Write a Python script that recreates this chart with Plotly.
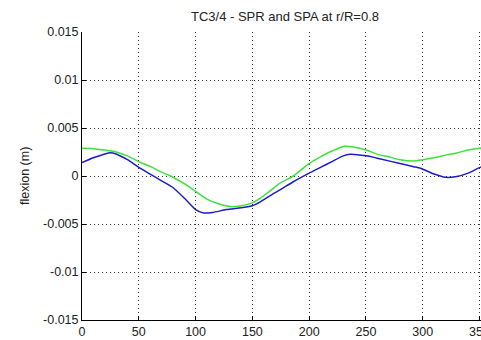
import plotly.graph_objects as go

# Data
x_spr = [0, 10, 20, 25, 30, 40, 50, 60, 70, 80, 90, 100, 107, 115, 127, 140, 150, 157,
         165, 175, 186, 200, 210, 220, 230, 236, 250, 262, 280, 292, 298, 310, 320, 330,
         340, 350, 360]
y_spr = [0.0014, 0.0019, 0.0023, 0.00243, 0.0023, 0.0017, 0.0009, 0.0002, -0.0005, -0.0012,
         -0.0023, -0.0035, -0.00385, -0.0038, -0.0035, -0.0033, -0.0031, -0.0027,
         -0.0021, -0.0014, -0.0006, 0.0003, 0.0009, 0.0015, 0.0021, 0.00226, 0.0021, 0.0018,
         0.0013, 0.00097, 0.0008, 0.0002, -0.00014, -0.00005, 0.0003, 0.00087, 0.0013]

x_spa = [0, 10, 20, 30, 40, 50, 60, 70, 78, 90, 100, 110, 120, 132, 140, 150, 157, 165,
         175, 186, 200, 210, 220, 231, 240, 250, 262, 270, 280, 292, 300, 310, 321, 330,
         340, 350, 360]
y_spa = [0.00288, 0.00285, 0.0027, 0.0025, 0.0021, 0.0015, 0.0010, 0.0004, 0.0, -0.0008,
         -0.0016, -0.0024, -0.0029, -0.0032, -0.0031, -0.0028, -0.0023, -0.0016,
         -0.0007, 0.0, 0.0013, 0.0020, 0.0026, 0.0031, 0.0030, 0.0027, 0.0022, 0.0020,
         0.0017, 0.00156, 0.0017, 0.0019, 0.0022, 0.0024, 0.0027, 0.0029, 0.0030]

x_ticks = [0, 50, 100, 150, 200, 250, 300, 350]
y_ticks = [-0.015, -0.01, -0.005, 0, 0.005, 0.01, 0.015]
y_tick_text = ["-0.015", "-0.01", "-0.005", "0", "0.005", "0.01", "0.015"]

title_text = "TC3/4 - SPR and SPA at r/R=0.8"
ylabel_text = "flexion (m)"

fig = go.Figure()
fig.add_trace(go.Scatter(x=x_spr, y=y_spr, mode="lines", line=dict(color="#1c1cc8", width=1.5, shape="spline", smoothing=0.6), showlegend=False))
fig.add_trace(go.Scatter(x=x_spa, y=y_spa, mode="lines", line=dict(color="#3ee03e", width=1.5, shape="spline", smoothing=0.8), showlegend=False))

axis_font = dict(family="Liberation Sans, Arial, sans-serif", size=12.5, color="#222")

fig.update_layout(
    width=481, height=340,
    margin=dict(l=82, r=0, t=32, b=20, autoexpand=False),
    paper_bgcolor="white", plot_bgcolor="white",
    title=dict(text=title_text, x=285/481, xref="container", xanchor="center",
               y=1-16/340, yref="container", yanchor="middle",
               font=dict(family="Liberation Sans, Arial, sans-serif", size=13, color="#222")),
    annotations=[dict(text=ylabel_text, xref="paper", yref="paper", x=(25-82)/399, y=0.5,
                      xanchor="center", yanchor="middle", textangle=-90, showarrow=False,
                      font=dict(family="Liberation Sans, Arial, sans-serif", size=12.5, color="#222"))],
)
fig.update_xaxes(range=[0, 351.3], tickvals=x_ticks, ticks="inside", ticklen=4, tickcolor="#000",
                 showline=True, linecolor="#000", linewidth=1, mirror=False,
                 showgrid=True, gridcolor="#333", griddash="1px,3px", gridwidth=1,
                 zeroline=False, tickfont=axis_font, ticklabeloverflow="allow", automargin=False)
fig.update_yaxes(range=[-0.015, 0.015], tickvals=y_ticks, ticktext=y_tick_text, ticks="inside", ticklen=4,
                 tickcolor="#000", showline=True, linecolor="#000", linewidth=1, mirror=False,
                 showgrid=True, gridcolor="#333", griddash="1px,3px", gridwidth=1,
                 zeroline=False, tickfont=axis_font, automargin=False)

fig.write_html("out.html")
